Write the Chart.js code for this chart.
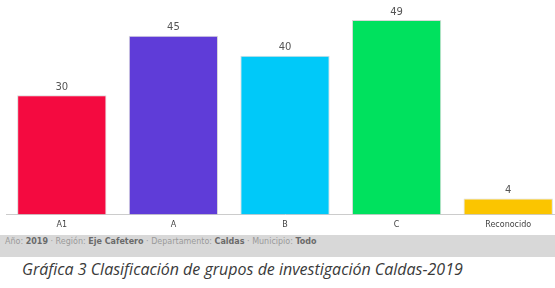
<!DOCTYPE html>
<html>
<head>
<meta charset="utf-8">
<script src="https://cdn.jsdelivr.net/npm/chart.js@4.4.0/dist/chart.umd.min.js"></script>
<style>
    html, body { margin: 0; padding: 0; background: #fff; overflow: hidden; }
    body { width: 555px; height: 288px; position: relative; }
    #chartBox { position: absolute; left: 0; top: 0; width: 564px; height: 228px; }
    #filtros {
        position: absolute; left: 0; top: 235px; width: 555px; height: 22px;
        background: #d8d8d8; font-family: "DejaVu Sans", sans-serif; font-size: 8px;
        color: #9a9a9a; line-height: 14px; padding-left: 5px; box-sizing: border-box;
    }
    #filtros b { color: #6a6a6a; }
    #titulo {
        position: absolute; left: 22px; top: 258px; font-family: "Open Sans", sans-serif;
        font-style: italic; font-size: 16px; color: #3a3a3a; white-space: nowrap;
    }
</style>
</head>
<body>
<div id="chartBox"><canvas id="gruposChart"></canvas></div>
<div id="filtros">Año: <b>2019</b> · Región: <b>Eje Cafetero</b> · Departamento: <b>Caldas</b> · Municipio: <b>Todo</b></div>
<div id="titulo">Gráfica 3 Clasificación de grupos de investigación Caldas-2019</div>

<script>
// Datos de la gráfica
const categorias = ['A1', 'A', 'B', 'C', 'Reconocido'];
const grupos = [30, 45, 40, 49, 4];
const colores = ['#f40a40', '#5f3cd8', '#00c9f9', '#00e15e', '#fbc500'];

// Etiquetas de valor encima de cada barra
const valoresPlugin = {
    id: 'valores',
    afterDatasetsDraw(chart) {
        const ctx = chart.ctx;
        const meta = chart.getDatasetMeta(0);
        ctx.save();
        ctx.font = '10px "DejaVu Sans", sans-serif';
        ctx.fillStyle = '#555';
        ctx.textAlign = 'center';
        ctx.textBaseline = 'bottom';
        meta.data.forEach((bar, i) => {
            ctx.fillText(grupos[i], bar.x, bar.y - 3);
        });
        ctx.restore();
    }
};

new Chart(document.getElementById('gruposChart'), {
    type: 'bar',
    data: {
        labels: categorias,
        datasets: [{
            data: grupos,
            backgroundColor: colores,
            borderColor: 'rgba(0,0,0,0.15)',
            borderWidth: 1,
            categoryPercentage: 0.8,
            barPercentage: 1
        }]
    },
    options: {
        responsive: true,
        maintainAspectRatio: false,
        animation: false,
        layout: { padding: { left: 6, right: 0, top: 16, bottom: 0 } },
        plugins: {
            legend: { display: false },
            tooltip: { enabled: false }
        },
        scales: {
            x: {
                grid: { display: false },
                border: { display: true, color: '#ccc' },
                ticks: {
                    color: '#444',
                    font: { family: 'DejaVu Sans', size: 8 },
                    padding: -2
                }
            },
            y: {
                display: false,
                min: 0,
                max: 50
            }
        }
    },
    plugins: [valoresPlugin]
});
</script>
</body>
</html>
